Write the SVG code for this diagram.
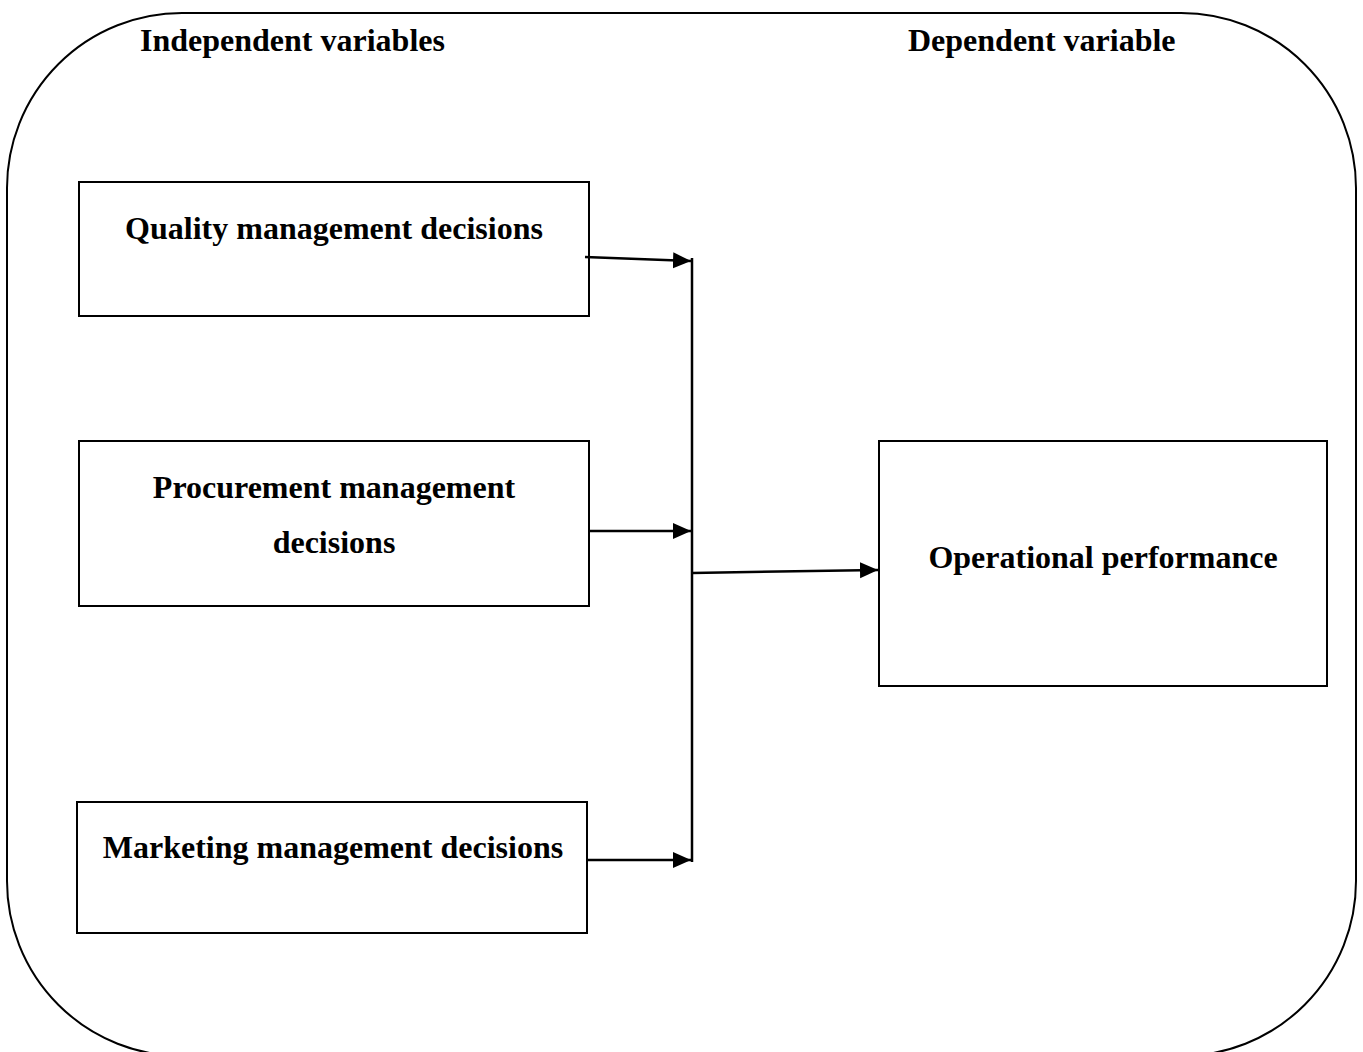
<svg xmlns="http://www.w3.org/2000/svg" width="1363" height="1052" viewBox="0 0 1363 1052">
<style>
.box{fill:#fff;stroke:#000;stroke-width:2}
.t{font-family:"Liberation Serif","Times New Roman",serif;font-weight:bold;font-size:32px;fill:#000}
.c{stroke:#000;stroke-width:2.5;fill:none}
</style>
<defs>
<marker id="ah2" markerWidth="18" markerHeight="18" refX="18" refY="9" orient="auto" markerUnits="userSpaceOnUse" viewBox="0 0 18 18">
<path d="M0,1 L18,9 L0,17 Z" fill="#000"/>
</marker>
</defs>
<rect x="7" y="13" width="1349" height="1043" rx="175" ry="175" fill="none" stroke="#000" stroke-width="2"/>
<text class="t" x="140" y="51">Independent variables</text>
<text class="t" x="908" y="51">Dependent variable</text>
<g id="quality">
<rect class="box" x="79" y="182" width="510" height="134"/>
<text class="t" x="334" y="239" text-anchor="middle">Quality management decisions</text>
</g>
<g id="procurement">
<rect class="box" x="79" y="441" width="510" height="165"/>
<text class="t" x="334" y="498" text-anchor="middle">Procurement management</text>
<text class="t" x="334" y="553" text-anchor="middle">decisions</text>
</g>
<g id="marketing">
<rect class="box" x="77" y="802" width="510" height="131"/>
<text class="t" x="333" y="858" text-anchor="middle">Marketing management decisions</text>
</g>
<g id="operational">
<rect class="box" x="879" y="441" width="448" height="245"/>
<text class="t" x="1103" y="568" text-anchor="middle">Operational performance</text>
</g>
<g id="connectors">
<line class="c" x1="692" y1="258" x2="692" y2="862"/>
<line class="c" x1="585" y1="257" x2="691" y2="261" marker-end="url(#ah2)"/>
<line class="c" x1="589" y1="531" x2="691" y2="531" marker-end="url(#ah2)"/>
<line class="c" x1="587" y1="860" x2="691" y2="860" marker-end="url(#ah2)"/>
<line class="c" x1="692" y1="573" x2="878" y2="570" marker-end="url(#ah2)"/>
</g>
</svg>
